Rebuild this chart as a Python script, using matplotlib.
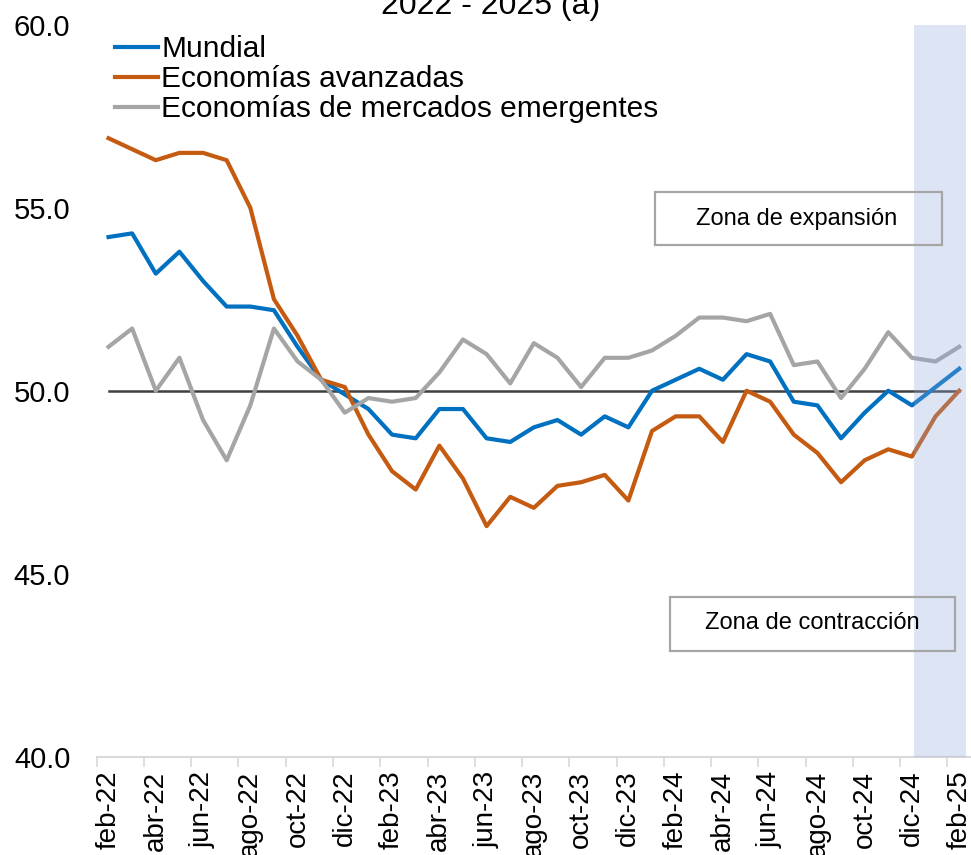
import matplotlib
matplotlib.use("Agg")
import matplotlib.pyplot as plt
from matplotlib.patches import Rectangle
import numpy as np

plt.rcParams['font.family'] = ['Liberation Sans', 'DejaVu Sans']

# monthly labels feb-22 .. feb-25 (only every second one is shown)
months = ['feb-22', 'mar-22', 'abr-22', 'may-22', 'jun-22', 'jul-22', 'ago-22', 'sep-22',
          'oct-22', 'nov-22', 'dic-22', 'ene-23', 'feb-23', 'mar-23', 'abr-23', 'may-23',
          'jun-23', 'jul-23', 'ago-23', 'sep-23', 'oct-23', 'nov-23', 'dic-23', 'ene-24',
          'feb-24', 'mar-24', 'abr-24', 'may-24', 'jun-24', 'jul-24', 'ago-24', 'sep-24',
          'oct-24', 'nov-24', 'dic-24', 'ene-25', 'feb-25']

mundial = [54.2, 54.3, 53.2, 53.8, 53.0, 52.3, 52.3, 52.2, 51.2, 50.3, 49.9, 49.5,
           48.8, 48.7, 49.5, 49.5, 48.7, 48.6, 49.0, 49.2, 48.8, 49.3, 49.0, 50.0,
           50.3, 50.6, 50.3, 51.0, 50.8, 49.7, 49.6, 48.7, 49.4, 50.0, 49.6, 50.1, 50.6]

avanzadas = [56.9, 56.6, 56.3, 56.5, 56.5, 56.3, 55.0, 52.5, 51.5, 50.3, 50.1, 48.8,
             47.8, 47.3, 48.5, 47.6, 46.3, 47.1, 46.8, 47.4, 47.5, 47.7, 47.0, 48.9,
             49.3, 49.3, 48.6, 50.0, 49.7, 48.8, 48.3, 47.5, 48.1, 48.4, 48.2, 49.3, 50.0]

emergentes = [51.2, 51.7, 50.0, 50.9, 49.2, 48.1, 49.6, 51.7, 50.8, 50.3, 49.4, 49.8,
              49.7, 49.8, 50.5, 51.4, 51.0, 50.2, 51.3, 50.9, 50.1, 50.9, 50.9, 51.1,
              51.5, 52.0, 52.0, 51.9, 52.1, 50.7, 50.8, 49.8, 50.6, 51.6, 50.9, 50.8, 51.2]

umbral = [50.0] * len(months)

x = np.arange(len(months))

fig = plt.figure(figsize=(9.71, 8.55), dpi=100)
ax = fig.add_axes([0.0996, 0.115, 0.9004, 0.856])

ax.plot(x, umbral, color='#404040', lw=1.8, zorder=2)
ax.plot(x, mundial, color='#0070C0', lw=3, label='Mundial', zorder=3)
ax.plot(x, avanzadas, color='#C55A11', lw=3, label='Economías avanzadas', zorder=3)
ax.plot(x, emergentes, color='#A5A5A5', lw=3, label='Economías de mercados emergentes', zorder=3)

# shaded forecast area
ax.axvspan(34.1, 36.3, color='#8FA9DC', alpha=0.3, lw=0, zorder=4)

ax.set_xlim(-0.5, 36.5)
ax.set_ylim(40, 60)

# y axis
ax.set_yticks([40, 45, 50, 55, 60])
ax.set_yticklabels([f'{v:.1f}' for v in [40, 45, 50, 55, 60]])
ax.tick_params(axis='y', length=0, pad=19, labelsize=21)

# x axis: labels every 2 months, tick marks between categories
ax.set_xticks(x[::2])
ax.set_xticklabels(months[::2], rotation=90)
ax.set_xticks(np.arange(-0.5, 36, 2), minor=True)
ax.tick_params(axis='x', which='major', length=0, pad=10, labelsize=20)
ax.tick_params(axis='x', which='minor', length=7, width=1.2, color='#D9D9D9')

for s in ['top', 'right', 'left']:
    ax.spines[s].set_visible(False)
ax.spines['bottom'].set_color('#D9D9D9')
ax.spines['bottom'].set_linewidth(1.5)

# zone boxes
ax.add_patch(Rectangle((23.13, 53.98), 12.13, 1.45, fill=False, ec='#A6A6A6', lw=1.6, zorder=5))
ax.text(29.13, 54.7, 'Zona de expansión', ha='center', va='center', fontsize=17, zorder=6)
ax.add_patch(Rectangle((23.76, 42.90), 12.05, 1.46, fill=False, ec='#A6A6A6', lw=1.6, zorder=5))
ax.text(29.77, 43.64, 'Zona de contracción', ha='center', va='center', fontsize=17, zorder=6)

fig.legend(loc='upper left', bbox_to_anchor=(115 / 971, 1 - 35 / 855), frameon=False,
           fontsize=21.5, handlelength=1.45, handletextpad=0.1, labelspacing=0.07,
           borderpad=0, borderaxespad=0)

# title, partially cut at top edge
fig.text(0.505, 1 - 14 / 855, '2022 - 2025 (a)', ha='center', va='baseline', fontsize=23)

fig.savefig('out.png', dpi=100)
